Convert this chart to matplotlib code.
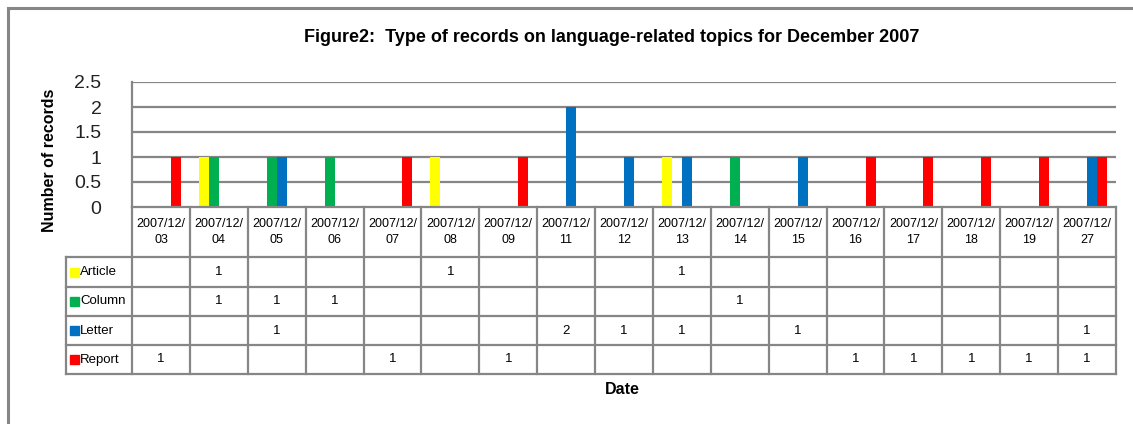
import numpy as np
import matplotlib
matplotlib.use('Agg')
import matplotlib.pyplot as plt
from matplotlib.lines import Line2D
from matplotlib.patches import Rectangle

# Данные
dates = ['03', '04', '05', '06', '07', '08', '09', '11', '12', '13',
         '14', '15', '16', '17', '18', '19', '27']
series = ['Article', 'Column', 'Letter', 'Report']
article = [0, 1, 0, 0, 0, 1, 0, 0, 0, 1, 0, 0, 0, 0, 0, 0, 0]
column = [0, 1, 1, 1, 0, 0, 0, 0, 0, 0, 1, 0, 0, 0, 0, 0, 0]
letter = [0, 0, 1, 0, 0, 0, 0, 2, 1, 1, 0, 1, 0, 0, 0, 0, 1]
report = [1, 0, 0, 0, 1, 0, 1, 0, 0, 0, 0, 0, 1, 1, 1, 1, 1]
colors = ['#FFFF00', '#00B050', '#0070C0', '#FF0000']
yticks = [0, 0.5, 1, 1.5, 2, 2.5]

FONT = ['Liberation Sans', 'DejaVu Sans']
GRAY = '#868686'
W, H = 1133, 424

plt.rcParams['font.family'] = FONT

fig = plt.figure(figsize=(W / 100, H / 100), dpi=100)


def fx(px):
    return px / W


def fy(py):
    return 1 - py / H


# Рамка вокруг диаграммы
fig.add_artist(Line2D([fx(8), fx(8)], [fy(8), 0], color=GRAY, lw=2.2))
fig.add_artist(Line2D([fx(8), 1], [fy(8), fy(8)], color=GRAY, lw=2.2))

# Основная область
left, right, top, bottom = 132, 1116, 82, 207
ax = fig.add_axes([fx(left), fy(bottom), fx(right - left), fy(top) - fy(bottom)])

values = [article, column, letter, report]
n = len(dates)
x = np.arange(n)
bw = 10 / ((right - left) / n)
for k, (vals, c) in enumerate(zip(values, colors)):
    ax.bar(x + (k - 1.5) * bw, vals, width=bw, color=c, linewidth=0, zorder=3)

ax.set_xlim(-0.5, n - 0.5)
ax.set_ylim(0, 2.5)
ax.set_yticks(yticks)
ax.set_yticklabels(['0', '0.5', '1', '1.5', '2', '2.5'], fontsize=14, color='#222222')
ax.tick_params(axis='y', length=0, pad=22)
ax.set_xticks([])
for y in yticks[1:]:
    ax.axhline(y, color=GRAY, lw=1.6, zorder=1)
for s in ['top', 'right', 'bottom']:
    ax.spines[s].set_visible(False)
ax.spines['left'].set_color(GRAY)
ax.spines['left'].set_linewidth(1.6)

# Таблица данных
tleft, tbottom = 66, 374
catw = (right - left) / n
lw = (left - tleft) / catw
tax = fig.add_axes([fx(tleft), fy(tbottom), fx(right - tleft), fy(bottom) - fy(tbottom)])
tax.set_xlim(-0.5 - lw, n - 0.5)
tax.set_ylim(tbottom, bottom)
tax.axis('off')

row_edges = [bottom, 257, 287, 316, 345, 374]
lkw = dict(color=GRAY, lw=1.6, clip_on=False)
# горизонтальные линии
tax.plot([-0.5, n - 0.5], [row_edges[0]] * 2, **lkw)
for yy in row_edges[1:]:
    tax.plot([-0.5 - lw, n - 0.5], [yy] * 2, **lkw)
# вертикальные линии
for i in range(n + 1):
    tax.plot([i - 0.5] * 2, [bottom, tbottom], **lkw)
tax.plot([-0.5 - lw] * 2, [257, tbottom], **lkw)

# заголовки дат
for i, d in enumerate(dates):
    tax.text(i, (bottom + 257) / 2, '2007/12/\n' + d, ha='center', va='center',
             fontsize=9, linespacing=1.4)

# строки серий
for r, (name, vals, c) in enumerate(zip(series, values, colors)):
    yc = (row_edges[r + 1] + row_edges[r + 2]) / 2
    sq = 9 / catw
    tax.add_patch(Rectangle((-0.5 - lw + 4 / catw, yc + 4.5), sq, -9,
                            color=c, clip_on=False))
    tax.text(-0.5 - lw + 14 / catw, yc, name, ha='left', va='center', fontsize=9.5)
    for i, v in enumerate(vals):
        if v:
            tax.text(i, yc, str(v), ha='center', va='center', fontsize=9.5)

# подписи
fig.text(fx(612), fy(38), 'Figure2:  Type of records on language-related topics for December 2007',
         ha='center', va='center', fontsize=13, fontweight='bold')
fig.text(fx(50), fy(160), 'Number of records', rotation=90, ha='center', va='center',
         fontsize=11.5, fontweight='bold')
fig.text(fx(622), fy(390), 'Date', ha='center', va='center', fontsize=11.5, fontweight='bold')

fig.savefig('out.png', dpi=100)
